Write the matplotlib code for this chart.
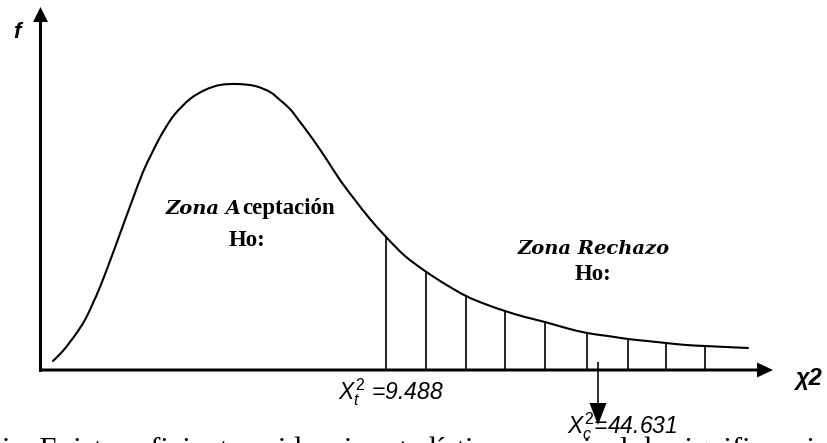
import numpy as np
import matplotlib
matplotlib.use("Agg")
import matplotlib.pyplot as plt
from matplotlib.path import Path
from matplotlib.patches import PathPatch

# curve (x position, pixel row of the curve)
curve_x = [53, 62, 70, 78, 86, 93, 100, 110, 121, 132, 143, 151, 158, 166, 175, 190, 205, 220, 237,
           255, 270, 280, 290, 297, 312, 327, 340, 355, 370, 387, 405, 425, 445, 466, 485, 505,
           525, 545, 566, 587, 608, 628, 647, 666, 686, 705, 726, 748]
curve_py = [361, 352, 342, 331, 318, 303, 287, 261, 231, 201, 172, 155, 141, 127, 114, 99, 90, 85, 84,
            86, 92, 100, 109, 118, 138, 160, 180, 200, 219, 238, 256, 271, 284, 296, 304, 311,
            317, 322, 328, 333, 336, 339, 341, 343, 345, 346, 347, 348]
axis_py = 370
curve_f = [axis_py - p for p in curve_py]

# rejection zone hatch lines
hatch_x = [386, 426, 466, 505, 545, 587, 628, 666, 705]

# critical values
x_t_label = r"$X_t^2$ =9.488"
x_c_label = r"$X_c^2$=44.631"
x_c_pos = 598

caption = "ia. Existe suficiente evidencia estadística a un nivel de significancia"

plt.rcParams['mathtext.fontset'] = 'custom'
plt.rcParams['mathtext.it'] = 'Liberation Sans:italic'
plt.rcParams['mathtext.rm'] = 'Liberation Sans'
sans = ['Liberation Sans', 'DejaVu Sans']
serif = ['Liberation Serif', 'DejaVu Serif']
serif_it = ['DejaVu Serif']


def smooth_path(xs, ys):
    # pass a smooth bezier through the read points (catmull-rom handles)
    pts = np.column_stack((xs, ys)).astype(float)
    n = len(pts)
    verts = [pts[0]]
    codes = [Path.MOVETO]
    for i in range(n - 1):
        p0 = pts[max(i - 1, 0)]
        p1 = pts[i]
        p2 = pts[i + 1]
        p3 = pts[min(i + 2, n - 1)]
        verts += [p1 + (p2 - p0) / 6.0, p2 - (p3 - p1) / 6.0, p2]
        codes += [Path.CURVE4] * 3
    return Path(verts, codes)


def main():
    fig = plt.figure(figsize=(8.28, 4.43), dpi=100)
    ax = fig.add_axes([0, 0, 1, 1])
    ax.set_xlim(0, 828)
    ax.set_ylim(-73, 370)
    ax.axis('off')

    # axes drawn as arrows
    ax.arrow(40.5, -2, 0, 365, width=3, head_width=15, head_length=15,
             length_includes_head=True, color='black', lw=0)
    ax.arrow(39, 0, 734, 0, width=3, head_width=15, head_length=16,
             length_includes_head=True, color='black', lw=0)

    ax.add_patch(PathPatch(smooth_path(curve_x, curve_f), fill=False,
                           edgecolor='black', lw=1.5, capstyle='round'))

    tops = np.interp(hatch_x, curve_x, curve_f)
    for x, t in zip(hatch_x, tops):
        ax.plot([x, x], [0, t], color='black', lw=1.2)

    ax.text(17, 338, "f", fontsize=16, fontweight='bold', style='italic',
            family=sans, ha='center', va='center')
    ax.text(808, -8, "χ2", fontsize=17, fontweight='bold', style='italic',
            family=sans, ha='center', va='center')

    # acceptance zone
    ax.text(242, 161, "Zona A", fontsize=14, fontweight='bold', style='italic',
            family=serif_it, ha='right', va='center')
    ax.text(242, 162, "ceptación", fontsize=16.5, fontweight='bold',
            family=serif, ha='left', va='center')
    ax.text(247, 130, "Ho:", fontsize=16.5, fontweight='bold',
            family=serif, ha='center', va='center')

    # rejection zone
    ax.text(594, 121, "Zona Rechazo", fontsize=14, fontweight='bold', style='italic',
            family=serif_it, ha='center', va='center')
    ax.text(593, 96, "Ho:", fontsize=16.5, fontweight='bold',
            family=serif, ha='center', va='center')

    ax.text(391, -22, x_t_label, fontsize=16.5, style='italic', family=sans,
            ha='center', va='center')
    ax.arrow(x_c_pos, 8, 0, -63, width=1.6, head_width=17, head_length=22,
             length_includes_head=True, color='black', lw=0)
    ax.text(622, -56, x_c_label, fontsize=16.5, style='italic', family=sans,
            ha='center', va='center')

    ax.text(2, -67, caption, fontsize=22, family=serif, ha='left', va='top')

    fig.savefig("out.png", dpi=100)


if __name__ == "__main__":
    main()
